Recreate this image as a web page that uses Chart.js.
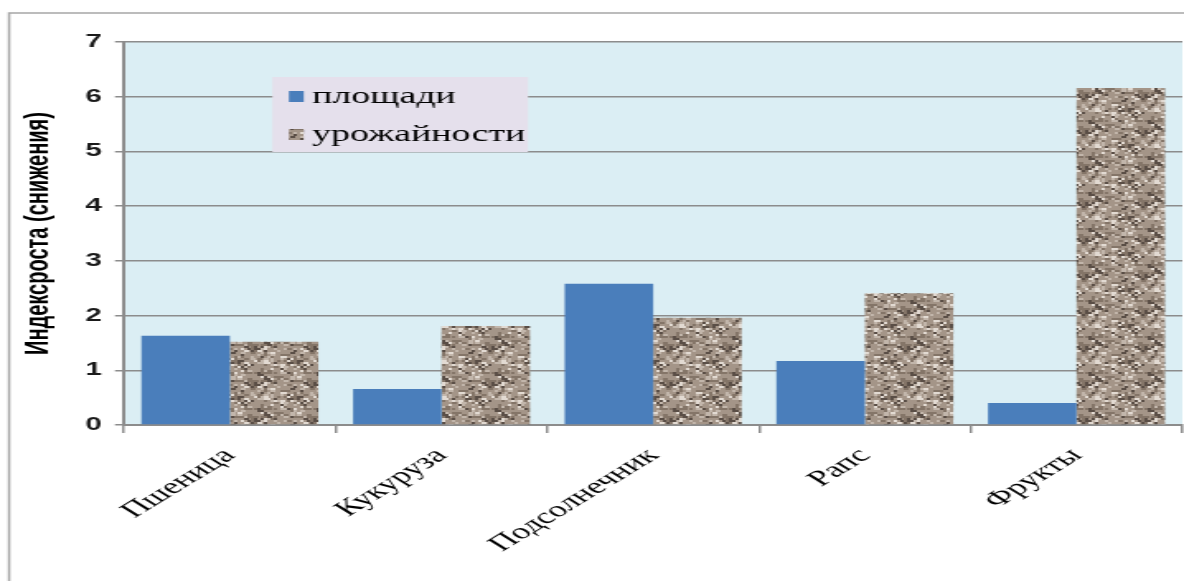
<!DOCTYPE html>
<html>
<head>
<meta charset="utf-8">
<script src="https://cdn.jsdelivr.net/npm/chart.js@4"></script>
<style>
  html, body { margin: 0; padding: 0; background: #fff; overflow: hidden; }
  #wrap { width: 718px; height: 581px; transform: scaleX(1.649); transform-origin: 0 0; }
</style>
</head>
<body>
<div id="wrap"><canvas id="chartArea" width="718" height="581"></canvas></div>
<script>
// categories and values
const categories = ['Пшеница', 'Кукуруза', 'Подсолнечник', 'Рапс', 'Фрукты'];
const areaValues = [1.63, 0.66, 2.58, 1.17, 0.40];   // площади
const yieldValues = [1.52, 1.81, 1.96, 2.41, 6.16];  // урожайности
const seriesLabels = ['площади', 'урожайности'];
const yTitle = 'Индексроста (снижения)';

const gridGray = '#8c8c8c';

// stone-like texture for the second series (blobby, deterministic)
function makeTexture() {
    const size = 36;
    const c = document.createElement('canvas');
    c.width = size; c.height = size;
    const g = c.getContext('2d');
    g.fillStyle = '#a49588';
    g.fillRect(0, 0, size, size);
    const hash = (a, b) => {
        const h = Math.sin(a * 12.9898 + b * 78.233) * 43758.5453;
        return h - Math.floor(h);
    };
    for (let y = 0; y < size; y += 2) {
        for (let x = 0; x < size; x += 2) {
            const f = hash(x, y);
            let col = null;
            if (f < 0.12) col = '#5a4e46';
            else if (f < 0.3) col = '#847568';
            else if (f > 0.9) col = '#e2dad2';
            else if (f > 0.74) col = '#c2b6ab';
            if (!col) continue;
            g.fillStyle = col;
            const w = hash(y, x) > 0.5 ? 3 : 2;
            g.fillRect(x, y, w, 2);
        }
    }
    return g.createPattern(c, 'repeat');
}

const ctx = document.getElementById('chartArea').getContext('2d');
const texture = makeTexture();

const frameAndBg = {
    id: 'frameAndBg',
    beforeDraw(chart) {
        const c = chart.ctx, a = chart.chartArea;
        c.save();
        c.strokeStyle = '#a6a6a6';
        c.lineWidth = 1.5;
        c.beginPath();
        c.moveTo(5.5, chart.height + 5);
        c.lineTo(5.5, 13);
        c.lineTo(chart.width + 5, 13);
        c.stroke();
        c.fillStyle = '#dbeef4';
        c.fillRect(a.left, a.top, a.right - a.left, a.bottom - a.top);
        c.restore();
    }
};

const boxLegend = {
    id: 'boxLegend',
    afterDraw(chart) {
        const c = chart.ctx, a = chart.chartArea;
        const x = a.left + 90, y = 77;
        c.save();
        c.fillStyle = '#e5e0ec';
        c.fillRect(x, y, 155, 75);
        c.font = '23px "Liberation Serif", "Times New Roman", serif';
        c.textBaseline = 'middle';
        chart.data.datasets.forEach((ds, i) => {
            const ry = y + 20 + i * 38;
            c.fillStyle = ds.backgroundColor;
            c.fillRect(x + 10, ry - 6, 9, 11);
            c.fillStyle = '#000';
            c.fillText(ds.label, x + 24, ry);
        });
        c.restore();
    }
};

new Chart(ctx, {
    type: 'bar',
    data: {
        labels: categories,
        datasets: [{
            label: seriesLabels[0],
            data: areaValues,
            backgroundColor: '#4a7ebb',
            borderWidth: 0,
            barPercentage: 1,
            categoryPercentage: 0.836
        }, {
            label: seriesLabels[1],
            data: yieldValues,
            backgroundColor: texture,
            borderWidth: 0,
            barPercentage: 1,
            categoryPercentage: 0.836
        }]
    },
    options: {
        responsive: false,
        animation: false,
        devicePixelRatio: 1,
        layout: { padding: { top: 42, right: 1, left: 0, bottom: 0 } },
        plugins: {
            legend: { display: false },
            tooltip: { enabled: false }
        },
        scales: {
            x: {
                offset: true,
                grid: {
                    display: true,
                    drawOnChartArea: false,
                    offset: true,
                    color: gridGray,
                    lineWidth: 1.5,
                    tickLength: 8
                },
                border: { display: true, color: gridGray, width: 2 },
                ticks: {
                    minRotation: 45,
                    maxRotation: 45,
                    autoSkip: false,
                    padding: 10,
                    color: '#000',
                    font: { family: '"Liberation Serif", "Times New Roman", serif', size: 22 }
                },
                afterFit(s) { s.height = 156; }
            },
            y: {
                min: 0,
                max: 7,
                ticks: {
                    stepSize: 1,
                    padding: 8,
                    color: '#1a1a1a',
                    font: { family: '"Liberation Sans", Arial, sans-serif', size: 18, weight: 'bold' }
                },
                grid: {
                    color: gridGray,
                    lineWidth: 1.5,
                    tickLength: 5.5
                },
                border: { display: true, color: gridGray, width: 2 },
                title: {
                    display: true,
                    text: yTitle,
                    color: '#000',
                    padding: { top: 11, bottom: 0 },
                    font: { family: '"Liberation Sans", Arial, sans-serif', size: 20, weight: 'bold' }
                },
                afterFit(s) { s.width = 75.2; }
            }
        }
    },
    plugins: [frameAndBg, boxLegend]
});
</script>
</body>
</html>
